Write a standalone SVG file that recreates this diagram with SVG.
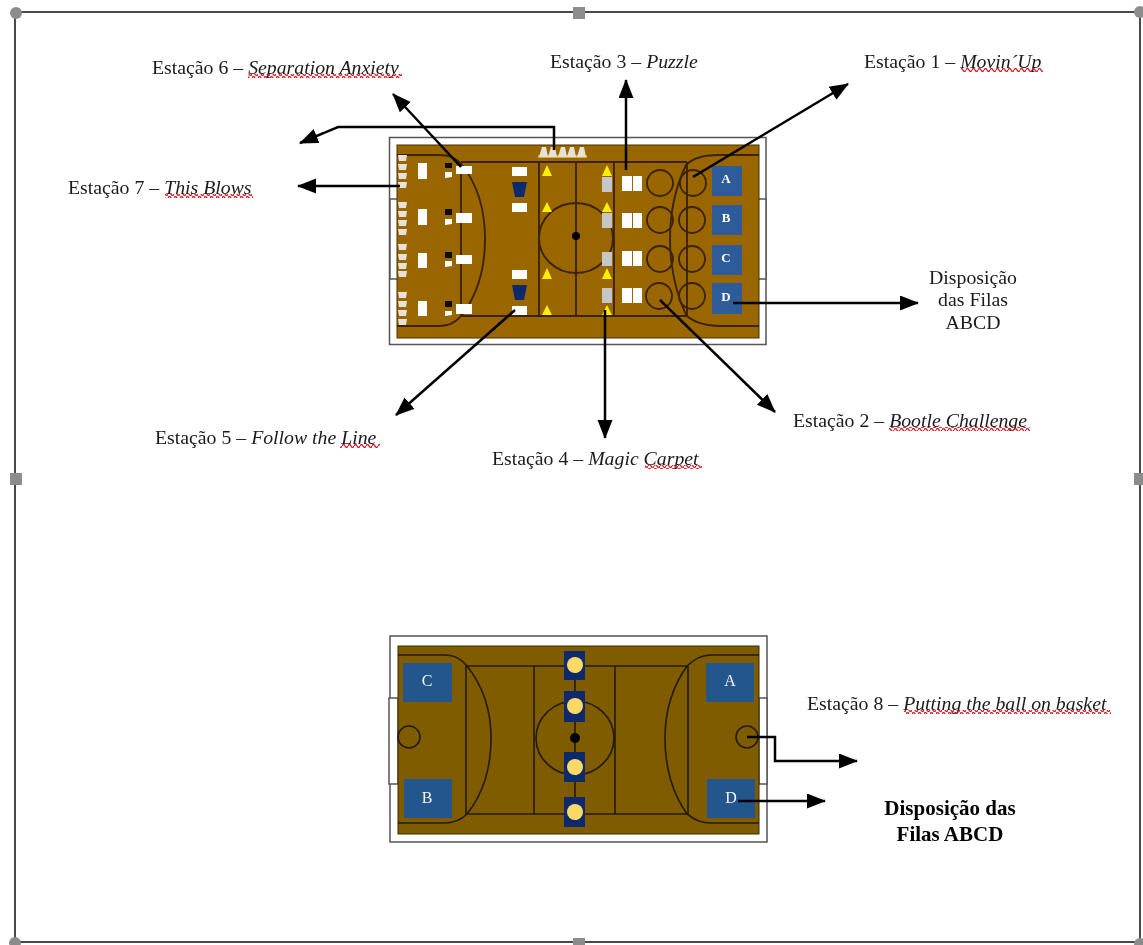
<svg xmlns="http://www.w3.org/2000/svg" width="1143" height="945" viewBox="0 0 1143 945">
<style>
text{font-family:"Liberation Serif","Times New Roman",serif;font-size:19.800px;fill:#1a1a1a}
.i{font-style:italic}
.b{font-weight:bold;fill:#000;font-size:21px}
.m{text-anchor:middle}
.box{font-size:13px;fill:#fff;text-anchor:middle;font-weight:bold}
.box2{font-size:16px;fill:#f4f4f4;text-anchor:middle}
.cl{fill:none;stroke:#3a2200;stroke-width:1.800}
.cl2{fill:none;stroke:#241a00;stroke-width:1.600}
.w{fill:#fff}
.out{fill:#fff;stroke:#555;stroke-width:1.500}
.bl{fill:#2f5c9a}
.bl2{fill:#24568c}
.nv{fill:#0d2a6e}
.gy{fill:#c4c6c8}
.y{fill:#ffee00}
.k{fill:#111}
.c{fill:#e6e2d8}
.con{fill:none;stroke:#000;stroke-width:2.500;marker-end:url(#a)}
.sq{fill:url(#wave)}
.h{fill:#8c8c8c}
</style>
<defs>
<marker id="a" markerUnits="userSpaceOnUse" markerWidth="20" markerHeight="16" refX="18" refY="7.500" orient="auto"><path d="M0 0L19 7.500L0 15Z" fill="#000"/></marker>
<pattern id="wave" patternUnits="userSpaceOnUse" width="6" height="4"><path d="M0 2Q1.500 -1 3 2T6 2" fill="none" stroke="#d0242a" stroke-width="1.400"/></pattern>
<filter id="soft" x="0" y="0" width="100%" height="100%"><feGaussianBlur stdDeviation="0.450"/></filter>
<g id="cone"><path d="M0 0H9L8 6H1Z"/></g>
</defs>
<rect width="1143" height="945" fill="#fff"/>
<g id="picture" filter="url(#soft)">
<g id="frame">
<rect x="15" y="12" width="1125" height="930" fill="none" stroke="#4a4a4a" stroke-width="2"/>
<circle class="h" cx="16" cy="13" r="6"/><rect class="h" x="573" y="7" width="12" height="12"/><circle class="h" cx="1140" cy="12" r="6"/>
<rect class="h" x="10" y="473" width="12" height="12"/><rect class="h" x="1134" y="473" width="9" height="12"/>
<circle class="h" cx="15" cy="943" r="6"/><rect class="h" x="573" y="938" width="12" height="7"/><circle class="h" cx="1140" cy="944" r="6"/>
</g>
<g id="court-1">
<rect class="out" x="389.500" y="137.500" width="376.500" height="207"/>
<rect class="out" x="390" y="199" width="8" height="80"/><rect class="out" x="758" y="199" width="8" height="80"/>
<rect x="397" y="145" width="362" height="193" fill="#996600" stroke="#4a3000"/>
<path class="cl" d="M461 162H687M461 316H687M461 162V316M687 162V316M539 162V316M576 162V316M614 162V316"/>
<ellipse class="cl" cx="576" cy="238" rx="37" ry="35"/>
<path class="cl" d="M397 155H438C450 155 456 158 462 165C477 184 485 210 485 239C485 268 477 295 462 315C456 322 450 326 438 326H397"/>
<path class="cl" d="M759 155H718C706 155 693 158 686 165C677 184 670 210 670 239C670 268 677 295 686 315C693 322 706 326 718 326H759"/>
<circle cx="576" cy="236" r="4" fill="#000"/>
</g>
<g id="station-2-circles" class="cl">
<circle cx="660" cy="183" r="13"/><circle cx="693" cy="183" r="13"/>
<circle cx="660" cy="220" r="13"/><circle cx="692" cy="220" r="13"/>
<circle cx="660" cy="259" r="13"/><circle cx="692" cy="259" r="13"/>
<circle cx="659" cy="296" r="13"/><circle cx="692" cy="296" r="13"/>
</g>
<g id="queue-a"><rect class="bl" x="712" y="166" width="30" height="30"/><text class="box" x="726" y="183">A</text></g>
<g id="queue-b"><rect class="bl" x="712" y="205" width="30" height="30"/><text class="box" x="726" y="222">B</text></g>
<g id="queue-c"><rect class="bl" x="712" y="245" width="30" height="30"/><text class="box" x="726" y="262">C</text></g>
<g id="queue-d"><rect class="bl" x="712" y="283" width="30" height="31"/><text class="box" x="726" y="301">D</text></g>
<g id="station-3-items" class="w">
<rect x="622" y="176" width="10" height="15"/><rect x="633" y="176" width="9" height="15"/>
<rect x="622" y="213" width="10" height="15"/><rect x="633" y="213" width="9" height="15"/>
<rect x="622" y="251" width="10" height="15"/><rect x="633" y="251" width="9" height="15"/>
<rect x="622" y="288" width="10" height="15"/><rect x="633" y="288" width="9" height="15"/>
</g>
<g id="station-4-items">
<g class="gy"><rect x="602" y="177" width="10" height="15"/><rect x="602" y="213" width="10" height="15"/><rect x="602" y="252" width="10" height="14"/><rect x="602" y="288" width="10" height="15"/></g>
<g class="y"><path d="M602 176L607 165L612 176Z"/><path d="M602 212L607 202L612 212Z"/><path d="M602 279L607 268L612 279Z"/><path d="M602 315L607 305L612 315Z"/>
<path d="M542 176L547 165L552 176Z"/><path d="M542 212L547 202L552 212Z"/><path d="M542 279L547 268L552 279Z"/><path d="M542 315L547 305L552 315Z"/></g>
</g>
<g id="station-5-items">
<g class="w"><rect x="512" y="167" width="15" height="9"/><rect x="512" y="203" width="15" height="9"/><rect x="512" y="270" width="15" height="9"/><rect x="512" y="306" width="15" height="9"/></g>
<g class="nv"><path d="M512 182H527L524 197H515Z"/><path d="M512 285H527L524 300H515Z"/></g>
</g>
<g id="station-6-items">
<g class="w"><rect x="456" y="166" width="16" height="8"/><rect x="456" y="213" width="16" height="10"/><rect x="456" y="255" width="16" height="9"/><rect x="456" y="304" width="16" height="10"/>
<path d="M445 172H452V177L445 178Z"/><path d="M445 219H452V224L445 225Z"/><path d="M445 261H452V266L445 267Z"/><path d="M445 311H452V315L445 316Z"/></g>
<g class="k"><rect x="445" y="163" width="7" height="5"/><rect x="445" y="209" width="7" height="6"/><rect x="445" y="252" width="7" height="6"/><rect x="445" y="301" width="7" height="6"/></g>
<g class="w"><rect x="418" y="163" width="9" height="16"/><rect x="418" y="209" width="9" height="16"/><rect x="418" y="253" width="9" height="15"/><rect x="418" y="301" width="9" height="15"/></g>
</g>
<g id="station-7-items" class="c">
<use href="#cone" x="398" y="155"/><use href="#cone" x="398" y="164"/><use href="#cone" x="398" y="173"/><use href="#cone" x="398" y="182"/>
<use href="#cone" x="398" y="202"/><use href="#cone" x="398" y="211"/><use href="#cone" x="398" y="220"/><use href="#cone" x="398" y="229"/>
<use href="#cone" x="398" y="244"/><use href="#cone" x="398" y="254"/><use href="#cone" x="398" y="263"/><use href="#cone" x="398" y="271"/>
<use href="#cone" x="398" y="292"/><use href="#cone" x="398" y="301"/><use href="#cone" x="398" y="310"/><use href="#cone" x="398" y="319"/>
</g>
<g id="top-cones">
<rect x="538" y="155" width="49" height="3" fill="#c9b04a"/>
<g class="c"><path d="M539 157L542 147H546L548 157Z"/><path d="M548 157L551 147H555L557 157Z"/><path d="M558 157L561 147H565L567 157Z"/><path d="M567 157L570 147H574L576 157Z"/><path d="M577 157L580 147H584L586 157Z"/></g>
</g>
<g id="court-2">
<rect class="out" x="390" y="636" width="377" height="206"/>
<rect class="out" x="389" y="698" width="9" height="86"/><rect class="out" x="759" y="698" width="8" height="86"/>
<rect x="398" y="646" width="361" height="188" fill="#7f5c00" stroke="#3a2a00"/>
<path class="cl2" d="M466 666H688M466 814H688M466 666V814M534 666V814M615 666V814M688 666V814M575 666V814"/>
<ellipse class="cl2" cx="575" cy="738" rx="39" ry="37"/>
<path class="cl2" d="M398 655H444C455 655 461 659 467 666C483 686 491 711 491 738C491 767 483 794 467 814C461 820 455 823 444 823H398"/>
<path class="cl2" d="M759 655H712C701 655 695 659 687 666C673 686 665 711 665 738C665 767 673 794 687 814C695 820 701 823 712 823H759"/>
<circle class="cl2" cx="409" cy="737" r="11"/><circle class="cl2" cx="747" cy="737" r="11"/>
<circle cx="575" cy="738" r="5" fill="#000"/>
</g>
<g id="q2-c"><rect class="bl2" x="403" y="663" width="49" height="39"/><text class="box2" x="427" y="686">C</text></g>
<g id="q2-a"><rect class="bl2" x="706" y="663" width="48" height="39"/><text class="box2" x="730" y="686">A</text></g>
<g id="q2-b"><rect class="bl2" x="404" y="779" width="48" height="39"/><text class="box2" x="427" y="803">B</text></g>
<g id="q2-d"><rect class="bl2" x="707" y="779" width="48" height="39"/><text class="box2" x="731" y="803">D</text></g>
<g id="station-8-items">
<g class="nv"><rect x="564" y="651" width="21" height="29"/><rect x="564" y="691" width="21" height="31"/><rect x="564" y="752" width="21" height="30"/><rect x="564" y="797" width="21" height="30"/></g>
<g fill="#ffd966"><circle cx="575" cy="665" r="8"/><circle cx="575" cy="706" r="8"/><circle cx="575" cy="767" r="8"/><circle cx="575" cy="812" r="8"/></g>
</g>
<g id="connectors">
<path class="con" d="M461 167L393 94"/>
<path class="con" d="M626 170V80"/>
<path class="con" d="M693 177L848 84"/>
<path class="con" d="M733 303H918"/>
<path class="con" d="M660 300L775 412"/>
<path class="con" d="M605 310V438"/>
<path class="con" d="M515 310L396 415"/>
<path class="con" d="M400 186H298"/>
<path class="con" d="M554 150V127H338L300 143"/>
<path class="con" d="M738 801H825"/>
<path class="con" d="M747 737H775V761H857"/>
</g>
<g id="labels">
<text x="152" y="74">Estação 6 – <tspan class="i">Separation Anxiety</tspan></text><rect class="sq" x="248" y="74" width="154" height="4"/>
<text x="550" y="68">Estação 3 – <tspan class="i">Puzzle</tspan></text>
<text x="864" y="68">Estação 1 – <tspan class="i">Movin´Up</tspan></text><rect class="sq" x="961" y="68" width="82" height="4"/>
<text x="68" y="194">Estação 7 – <tspan class="i">This Blows</tspan></text><rect class="sq" x="165" y="194" width="88" height="4"/>
<text class="m" x="973" y="284">Disposição</text><text class="m" x="973" y="306">das Filas</text><text class="m" x="973" y="329">ABCD</text>
<text x="793" y="427">Estação 2 – <tspan class="i">Bootle Challenge</tspan></text><rect class="sq" x="889" y="427" width="141" height="4"/>
<text x="155" y="444">Estação 5 – <tspan class="i">Follow the Line</tspan></text><rect class="sq" x="340" y="444" width="40" height="4"/>
<text x="492" y="465">Estação 4 – <tspan class="i">Magic Carpet</tspan></text><rect class="sq" x="645" y="465" width="57" height="4"/>
<text x="807" y="710">Estação 8 – <tspan class="i">Putting the ball on basket</tspan></text><rect class="sq" x="904" y="710" width="207" height="4"/>
<text class="m b" x="950" y="815">Disposição das</text><text class="m b" x="950" y="841">Filas ABCD</text>
</g>
</g>
</svg>
